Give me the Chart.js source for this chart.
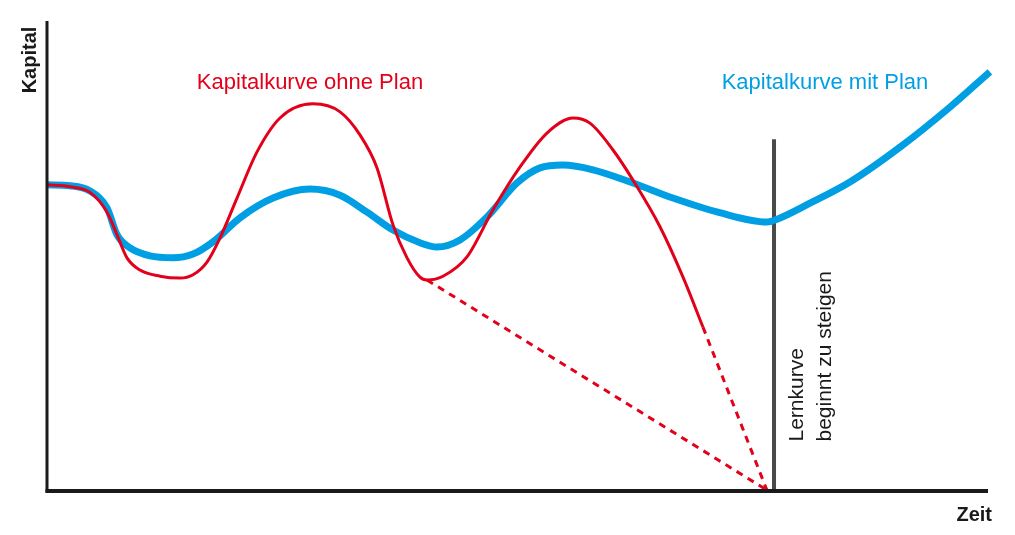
<!DOCTYPE html>
<html>
<head>
<meta charset="utf-8">
<script src="https://cdn.jsdelivr.net/npm/chart.js@4"></script>
<style>
html,body{margin:0;padding:0;background:#fff;}
#wrap{width:1015px;height:535px;}
</style>
</head>
<body>
<div id="wrap"><canvas id="chart" width="1015" height="535"></canvas></div>
<script>
// Zeit (x) and Kapital (y) in 0..100 units
const ohnePlanX=[0,2.44,4.57,6.38,7.44,8.50,9.88,12.01,14.13,15.52,17.00,18.38,20.19,22.32,24.76,28.27,31.14,33.26,35.07,36.77,38.26,39.64,40.38,42.08,44.63,47.40,50.27,53.13,55.90,57.70,60.15,62.27,65.14,67.59,69.71];
const ohnePlanY=[65.0,64.6,63.4,59.2,54.4,49.5,46.9,45.6,45.2,45.9,48.6,53.7,62.2,72.0,79.2,82.2,80.5,75.6,68.6,56.5,49.5,45.4,44.8,45.6,49.7,59.7,68.8,76.0,79.2,78.1,72.4,66.0,56.1,45.4,34.8];
const mitPlanX=[0,2.44,4.57,6.38,7.44,8.82,10.95,13.39,15.52,17.64,20.51,24.02,27.95,31.14,34.01,36.77,39.64,41.45,43.89,46.76,49.95,52.39,54.84,58.02,62.27,66.52,71.29,76.51,77.58,81.08,85.33,90.65,95.96,100.2];
const mitPlanY=[65.0,64.8,63.7,60.1,54.4,51.6,49.9,49.5,50.3,52.9,58.0,62.2,64.1,62.8,59.2,55.4,52.7,51.8,53.3,58.2,65.4,68.6,69.2,68.2,65.4,62.2,59.2,57.1,57.7,61.1,65.6,73.0,81.5,89.0];
// projected losses (dashed)
const verlust1X=[40.38,76.5], verlust1Y=[44.8,0.2];
const verlust2X=[69.71,76.5], verlust2Y=[34.8,0.2];
// Lernkurve marker
const lernX=[77.26,77.26], lernY=[0,74.7];

const red='#e2001a', blue='#009fe3';
const pts=(xs,ys)=>xs.map((x,i)=>({x,y:ys[i]}));

const labelsPlugin={
  id:'labels',
  afterDraw(chart){
    const c=chart.ctx, a=chart.chartArea;
    const xs=chart.scales.x, ys=chart.scales.y;
    c.save();
    // axes
    c.strokeStyle='#1a1a1a';
    c.lineWidth=3;
    c.beginPath(); c.moveTo(a.left,21); c.lineTo(a.left,a.bottom+1.5); c.stroke();
    c.lineWidth=4;
    c.beginPath(); c.moveTo(a.left-1.5,a.bottom); c.lineTo(988,a.bottom); c.stroke();
    const font='"Liberation Sans Narrow","Arial Narrow","Liberation Sans",sans-serif';
    // axis titles
    c.fillStyle='#1a1a1a';
    c.font='bold 20px '+font;
    c.textAlign='right'; c.textBaseline='alphabetic';
    c.fillText('Zeit',992,521);
    c.save(); c.translate(36,60); c.rotate(-Math.PI/2);
    c.textAlign='center'; c.fillText('Kapital',0,0); c.restore();
    // series labels
    c.font='22px '+font; c.textAlign='center';
    c.fillStyle=red; c.fillText('Kapitalkurve ohne Plan',310,89);
    c.fillStyle=blue; c.fillText('Kapitalkurve mit Plan',825,89);
    // Lernkurve note
    c.fillStyle='#1a1a1a'; c.font='21px '+font; c.textAlign='left';
    c.save(); c.translate(xs.getPixelForValue(lernX[0]),ys.getPixelForValue(10.5)); c.rotate(-Math.PI/2);
    c.fillText('Lernkurve',0,29); c.fillText('beginnt zu steigen',0,57); c.restore();
    c.restore();
  }
};

new Chart(document.getElementById('chart'),{
  type:'line',
  data:{datasets:[
    {data:pts(ohnePlanX,ohnePlanY),borderColor:red,borderWidth:3,cubicInterpolationMode:'monotone',order:0},
    {data:pts(verlust1X,verlust1Y),borderColor:red,borderWidth:3,borderDash:[7,6],order:0},
    {data:pts(verlust2X,verlust2Y),borderColor:red,borderWidth:3,borderDash:[7,6],order:0},
    {data:pts(lernX,lernY),borderColor:'#4a4a4a',borderWidth:4,order:2},
    {data:pts(mitPlanX,mitPlanY),borderColor:blue,borderWidth:7,cubicInterpolationMode:'monotone',order:1}
  ]},
  options:{
    responsive:false,animation:false,
    layout:{padding:{left:47,right:27,top:20,bottom:44}},
    elements:{point:{radius:0},line:{fill:false,borderCapStyle:'butt'}},
    datasets:{line:{clip:false}},
    scales:{
      x:{type:'linear',min:0,max:100,display:false},
      y:{min:0,max:100,display:false}
    },
    plugins:{legend:{display:false},tooltip:{enabled:false}}
  },
  plugins:[labelsPlugin]
});
</script>
</body>
</html>
